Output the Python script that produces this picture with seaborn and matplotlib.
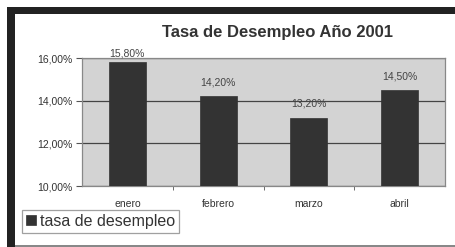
import numpy as np
import pandas as pd
import seaborn as sns
from matplotlib import pyplot as plt
from matplotlib.patches import Rectangle
from matplotlib.ticker import FuncFormatter, FixedLocator

meses = ['enero', 'febrero', 'marzo', 'abril']
tasa = [0.158, 0.142, 0.132, 0.145]
etiquetas = ['15,80%', '14,20%', '13,20%', '14,50%']

sns.set_style('white')
plt.rcParams['font.family'] = ['Liberation Sans', 'DejaVu Sans']

W, H = 455, 247
fig = plt.figure(figsize=(W / 100, H / 100), dpi=100)
fig.patch.set_facecolor('white')

# dark frame on the top and left, thin grey line at the bottom
fig.patches.append(Rectangle((7 / W, 0), 8 / W, 1 - 7 / H, transform=fig.transFigure,
                             facecolor='#222222', edgecolor='none'))
fig.patches.append(Rectangle((7 / W, 1 - 14 / H), 1, 7 / H, transform=fig.transFigure,
                             facecolor='#222222', edgecolor='none'))
fig.patches.append(Rectangle((15 / W, 0), 1, 2 / H, transform=fig.transFigure,
                             facecolor='#888888', edgecolor='none'))

ax = fig.add_axes([82 / W, 61 / H, 363 / W, 128 / H])
df = pd.DataFrame({'mes': meses, 'tasa': tasa})
sns.barplot(data=df, x='mes', y='tasa', color='#333333', width=0.41, saturation=1,
            edgecolor='#333333', linewidth=0.5,
            label='tasa de desempleo', ax=ax, zorder=3)
ax.set_facecolor('#d3d3d3')
ax.set_ylim(0.10, 0.16)
ax.set_xlim(-0.5, 3.5)
ax.set_yticks([0.10, 0.12, 0.14, 0.16])
ax.yaxis.set_major_formatter(FuncFormatter(lambda v, p: f'{v * 100:.2f}%'.replace('.', ',')))
ax.grid(axis='y', color='#444444', linewidth=0.9, zorder=1)
ax.set_axisbelow(True)
ax.set_xlabel('')
ax.set_ylabel('')
for s in ax.spines.values():
    s.set_color('#888888')
    s.set_linewidth(0.9)
ax.tick_params(axis='y', which='major', length=4, color='#555555', labelsize=7.5,
               labelcolor='#333333', left=True, pad=3)
ax.tick_params(axis='x', which='major', length=0, labelsize=7.5, labelcolor='#333333', pad=9)
ax.xaxis.set_minor_locator(FixedLocator([0.5, 1.5, 2.5]))
ax.tick_params(axis='x', which='minor', length=3, color='#555555', bottom=True)

for i, (v, t) in enumerate(zip(tasa, etiquetas)):
    ax.text(i, min(v + 0.0065, 0.1622), t, ha='center', va='center', fontsize=7.5,
            color='#444444', clip_on=False)

fig.text(277 / W, 1 - 32 / H, 'Tasa de Desempleo Año 2001', ha='center', va='center',
         fontsize=12, fontweight='bold', color='#333333')

leg = ax.legend(loc='lower left', bbox_to_anchor=(22 / W, 14 / H), bbox_transform=fig.transFigure,
                frameon=True, fancybox=False, fontsize=11.5, handlelength=0.6, handleheight=0.6,
                handletextpad=0.3, borderpad=0.25, borderaxespad=0)
leg.get_frame().set_edgecolor('#888888')
leg.get_frame().set_linewidth(0.9)
for txt in leg.get_texts():
    txt.set_color('#333333')

plt.savefig('out.png', dpi=100)
